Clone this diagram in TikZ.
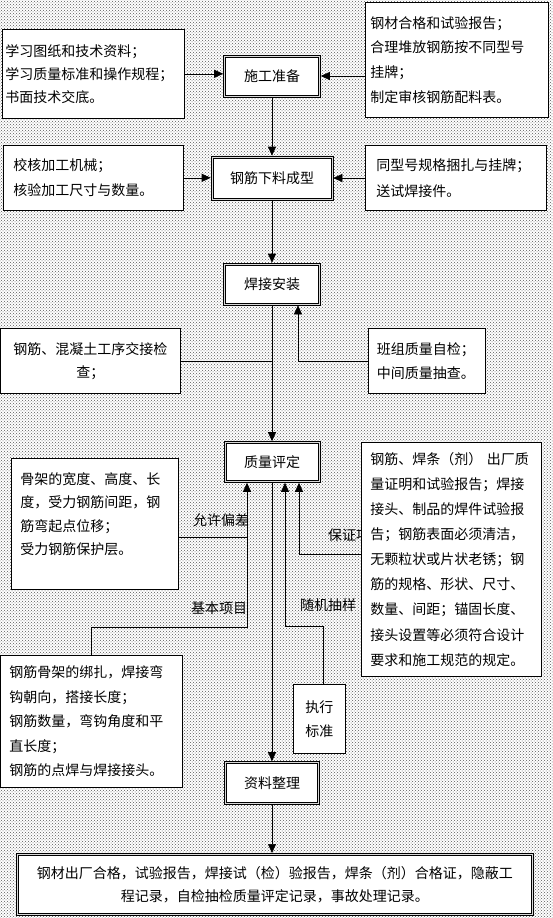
\documentclass[tikz,border=0pt]{standalone}
\usepackage{fontspec}
\setmainfont{Noto Sans CJK SC}
\usetikzlibrary{arrows.meta,positioning,patterns,calc}
\tikzset{
  stagebox/.style={draw, line width=0.6pt, fill=gray!30,
                   minimum height=42pt, inner sep=0pt, align=center,
                   font=\fontsize{14}{23}\selectfont,
                   path picture={\draw[line width=0.6pt, fill=white]
                     ([shift={(2.2pt,-2.2pt)}]path picture bounding box.north west) rectangle
                     ([shift={(-2.2pt,2.2pt)}]path picture bounding box.south east);}},
  notebox/.style={draw, line width=0.6pt, fill=white, anchor=north west, align=left,
                  inner ysep=0pt, font=\fontsize{14}{24}\selectfont},
  flowarr/.style={-{Triangle[length=9pt,width=8pt]}, line width=0.6pt},
  flowline/.style={line width=0.6pt},
  tagtext/.style={inner sep=0pt, font=\fontsize{14}{16}\selectfont}
}

\begin{document}
\begin{tikzpicture}[x=1pt, y=-1pt]
\useasboundingbox (0,0) rectangle (553,918);
\fill[white] (0,0) rectangle (553,918);
\fill[pattern=crosshatch dots, pattern color=black!65] (0,0) rectangle (553,918);

% main column
\node[stagebox, minimum width=97pt] (prep) at (272,76) {施工准备};
\node[stagebox, minimum width=122pt, minimum height=44pt] (cut) at (272,178) {钢筋下料成型};
\node[stagebox, minimum width=97pt] (weld) at (272,284) {焊接安装};
\node[stagebox, minimum width=96pt, minimum height=41pt] (qual) at (272,462) {质量评定};
\node[stagebox, minimum width=95pt, minimum height=43pt] (data) at (272,783) {资料整理};

% side notes
\node[notebox, text width=176pt, inner xsep=3pt, minimum height=89pt,
      font=\fontsize{14}{23}\selectfont] (study) at (2,29)
  {学习图纸和技术资料；\\学习质量标准和操作规程；\\书面技术交底。};
\node[notebox, text width=173pt, inner xsep=5pt, minimum height=115pt,
      font=\fontsize{14}{24.7}\selectfont] (steel) at (365,2)
  {钢材合格和试验报告；\\合理堆放钢筋按不同型号\\挂牌；\\制定审核钢筋配料表。};
\node[notebox, text width=160pt, inner xsep=10pt, minimum height=65pt,
      font=\fontsize{14}{25}\selectfont] (machine) at (3,145)
  {校核加工机械；\\核验加工尺寸与数量。};
\node[notebox, text width=159pt, inner xsep=11pt, minimum height=65pt,
      font=\fontsize{14}{26}\selectfont] (bundle) at (365,145)
  {同型号规格捆扎与挂牌；\\送试焊接件。};
\node[notebox, align=center, text width=164pt, inner xsep=8pt, minimum height=65pt,
      font=\fontsize{14}{23}\selectfont] (handover) at (0,328)
  {钢筋、混凝土工序交接检\\查；};
\node[notebox, text width=100pt, inner xsep=8.5pt, minimum height=65pt] (selfchk) at (368,328)
  {班组质量自检；\\中间质量抽查。};
\node[notebox, text width=149pt, inner xsep=9pt, minimum height=131pt,
      font=\fontsize{14}{23.5}\selectfont] (frame) at (11,458)
  {骨架的宽度、高度、长\\度，受力钢筋间距，钢\\筋弯起点位移；\\受力钢筋保护层。\\[-3pt]\mbox{}};
\begin{scope}
\clip (300,520) rectangle (361,550);
\node[tagtext, anchor=west] (guarantee) at (328,535) {保证项目};
\end{scope}
\node[notebox, text width=162pt, inner xsep=9pt, minimum height=234pt,
      font=\fontsize{14}{25.1}\selectfont] (cert) at (361,442)
  {钢筋、焊条（剂） 出厂质\\量证明和试验报告；焊接\\接头、制品的焊件试验报\\告；钢筋表面必须清洁，\\无颗粒状或片状老锈；钢\\筋的规格、形状、尺寸、\\数量、间距；锚固长度、\\接头设置等必须符合设计\\要求和施工规范的规定。};
\node[notebox, text width=164pt, inner xsep=9pt, minimum height=132pt,
      font=\fontsize{14}{24.5}\selectfont] (binding) at (0,655)
  {钢筋骨架的绑扎，焊接弯\\钩朝向，搭接长度；\\钢筋数量，弯钩角度和平\\直长度；\\钢筋的点焊与焊接接头。};
\node[notebox, align=center, text width=40pt, inner xsep=6pt, minimum height=69pt] (std) at (293,684)
  {执行\\标准};
\node[stagebox, anchor=north west, minimum width=517pt, minimum height=62pt] (records) at (16,853)
  {钢材出厂合格，试验报告，焊接试（检）验报告，焊条（剂）合格证，隐蔽工\\程记录，自检抽检质量评定记录，事故处理记录。};

% labels on the inputs
\node[tagtext] (tolerance) at (221,520) {允许偏差};
\node[tagtext] (basic) at (219,608) {基本项目};
\node[tagtext] (sampling) at (328,605) {随机抽样};

\coordinate (gj) at (247,537);
\coordinate (ij) at (247,627);
\coordinate (hj) at (299,554);
\coordinate (jj) at (285,626);

\draw[flowarr] (prep) -- (cut);
\draw[flowarr] (cut) -- (weld);
\draw[flowarr] (weld) -- (qual);
\draw[flowarr] (qual) -- (data);
\draw[flowarr] (data.south) -- (data.south |- records.north);
\draw[flowarr] (study.east) -- (study.east -| prep.west);
\draw[flowarr] (prep.east -| steel.west) -- (prep.east);
\draw[flowarr] (machine.east) -- (machine.east -| cut.west);
\draw[flowarr] (cut.east -| bundle.west) -- (cut.east);
\draw[flowline] (handover.east) -- (handover.east -| weld.south);
\draw[flowarr] (selfchk.west) -| ([xshift=26pt]weld.south);
\draw[flowline] (frame.east |- gj) -- (gj);
\draw[flowarr] (binding.north) |- (ij) -- (ij |- qual.south);
\draw[flowarr] (cert.west |- hj) -| (hj |- qual.south);
\draw[flowarr] ([xshift=4pt]std.north) |- (jj) -- (jj |- qual.south);
\end{tikzpicture}
\end{document}
